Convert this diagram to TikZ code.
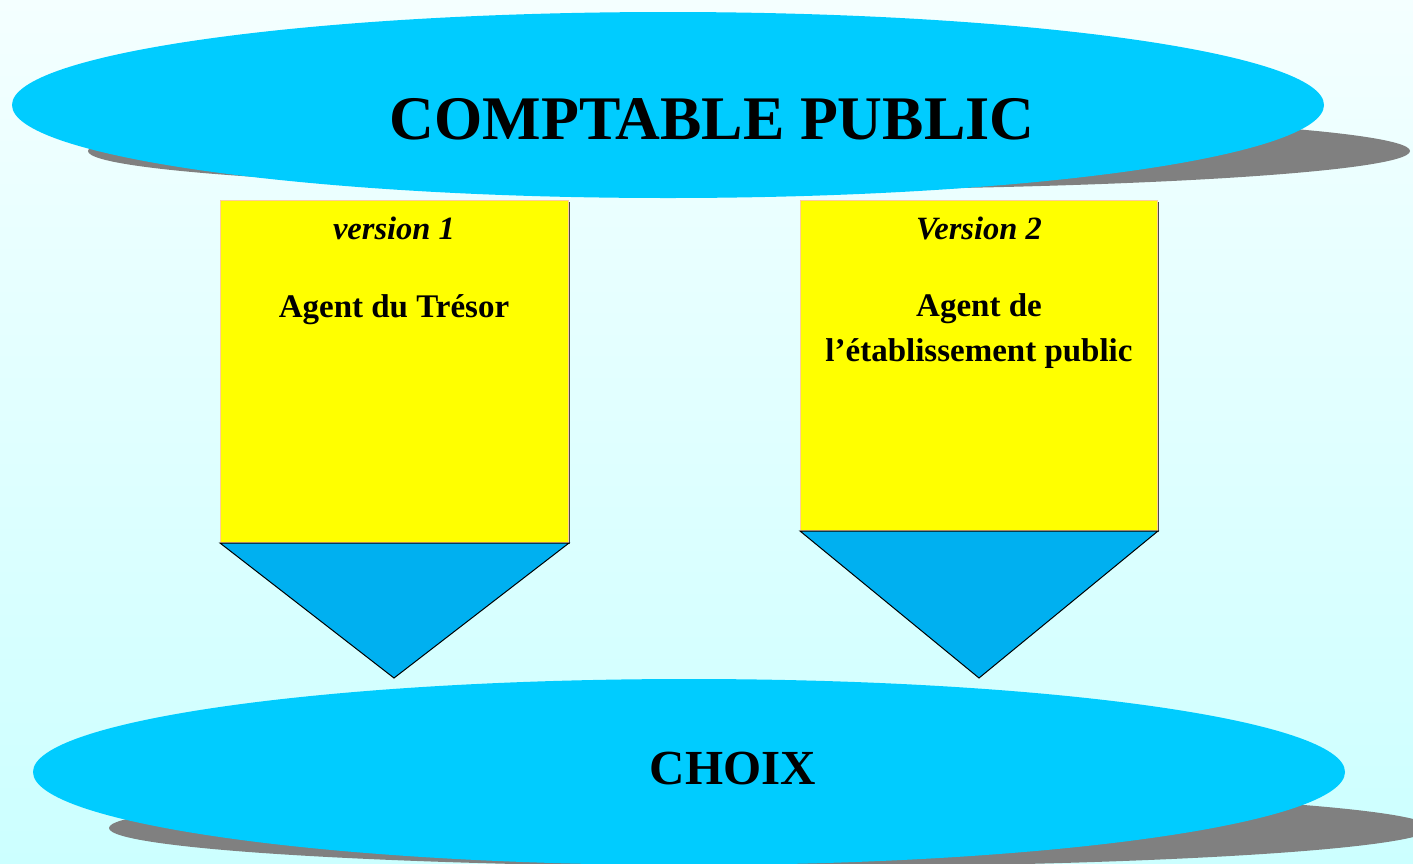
\documentclass[tikz,border=0pt]{standalone}
\usepackage{fontspec}
\setmainfont{Liberation Serif}
\usetikzlibrary{shapes.geometric}
\definecolor{bgtop}{RGB}{244,255,255}
\definecolor{bgbot}{RGB}{204,255,255}
\definecolor{ellcol}{RGB}{0,204,255}
\definecolor{shadcol}{RGB}{128,128,128}
\definecolor{boxcol}{RGB}{255,255,0}
\definecolor{boxedge}{RGB}{255,204,153}
\definecolor{tricol}{RGB}{0,176,240}
\tikzset{
  ellnode/.style={ellipse, fill=ellcol, inner sep=0pt, minimum width=1312pt, minimum height=186pt},
  shadnode/.style={ellipse, fill=shadcol, inner sep=0pt, minimum width=1322pt, minimum height=78pt},
  vbox/.style={rectangle, fill=boxcol, draw=boxedge, line width=1pt, inner sep=0pt, anchor=north west},
  vshadow/.style={rectangle, fill=black!70, inner sep=0pt, anchor=north west},
  tri/.style={fill=tricol, draw=black, line width=1pt, line join=miter},
  vlabel/.style={font=\fontsize{32.5}{38}\selectfont\bfseries\itshape, anchor=base},
  alabel/.style={font=\fontsize{33}{45}\selectfont\bfseries, anchor=base, align=center},
}
\begin{document}
\begin{tikzpicture}[x=1pt,y=-1pt]
\useasboundingbox (0,0) rectangle (1413,863);
\shade[top color=bgtop, bottom color=bgbot] (0,0) rectangle (1413,863);
% top ellipse
\node[shadnode] (s1) at (749,151) {};
\node[ellnode] (e1) at (668,105) {};
\node[font=\fontsize{62}{68}\selectfont\bfseries, anchor=base] (t1) at (712,139) {COMPTABLE PUBLIC};
% bottom ellipse
\node[shadnode] (s2) at (770,828) {};
\node[ellnode] (e2) at (689,772) {};
\node[font=\fontsize{49}{55}\selectfont\bfseries, anchor=base] (t2) at (733,784) {CHOIX};
% box 1
\node[vshadow, minimum width=348pt, minimum height=342pt] (b1s) at (222,202) {};
\node[vbox, minimum width=348pt, minimum height=342pt] (b1) at (220,200) {};
\node[vlabel] (v1) at (394,239) {version 1};
\node[alabel] (a1) at (394,317) {Agent du Trésor};
\coordinate (p1) at (394,678);
\draw[tri] (b1.south west) -- (b1.south east) -- (p1) -- cycle;
% box 2
\node[vshadow, minimum width=357pt, minimum height=330pt] (b2s) at (802,202) {};
\node[vbox, minimum width=357pt, minimum height=330pt] (b2) at (800,200) {};
\node[vlabel] (v2) at (979,239) {Version 2};
\node[alabel, anchor=north] (a2) at (979,290) {Agent de\\l’établissement public};
\coordinate (p2) at (979,678);
\draw[tri] (b2.south west) -- (b2.south east) -- (p2) -- cycle;
\end{tikzpicture}
\end{document}
